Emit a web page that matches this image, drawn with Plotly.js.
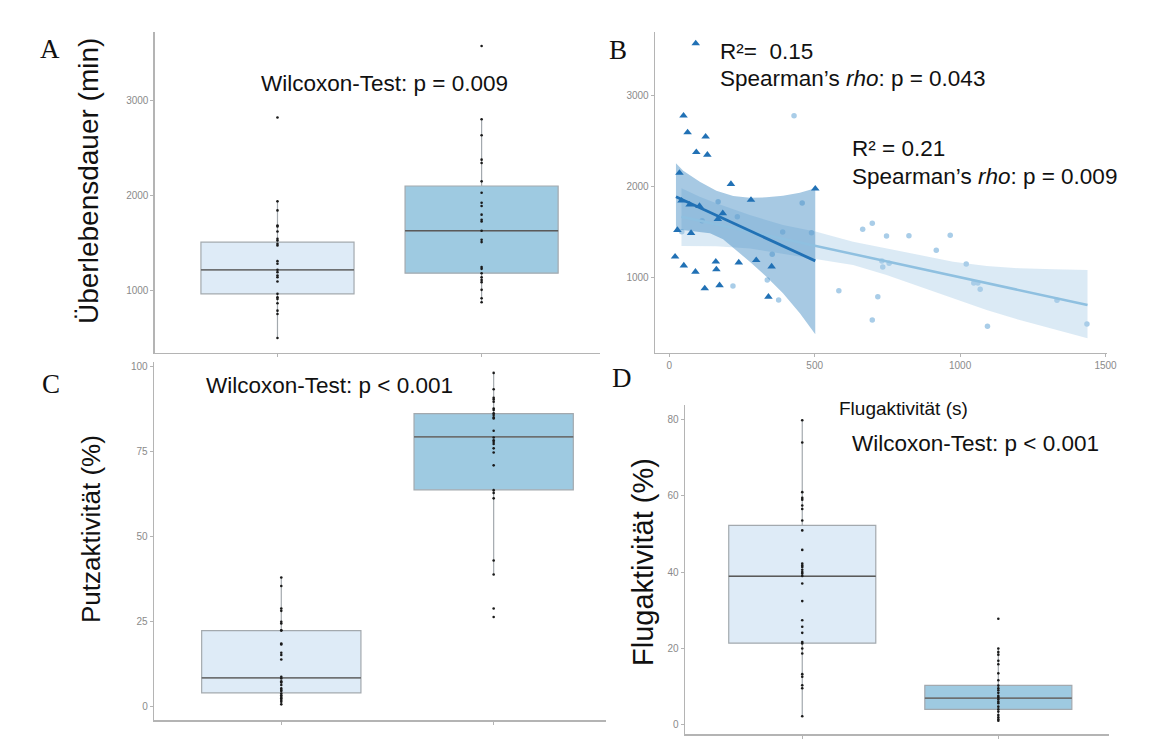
<!DOCTYPE html>
<html>
<head>
<meta charset="utf-8">
<script src="https://cdn.plot.ly/plotly-3.0.1.min.js"></script>
<style>html,body{margin:0;padding:0;background:#fff;}#chart{width:1152px;height:751px;}</style>
</head>
<body>
<div id="chart"></div>
<script>
// ---------- Panel A: Überlebensdauer (min) ----------
const groupsX = [1, 2];
const aQ1 = [965, 1182], aMed = [1218, 1628], aQ3 = [1508, 2098], aLo = [502, 877], aHi = [1937, 2800];
const aG1 = [2818,1937,1842,1684,1674,1621,1544,1526,1491,1474,1309,1281,1218,1193,1158,1140,1095,965,930,912,867,789,754,502];
const aG2 = [3569,2800,2632,2375,2340,2147,2028,1923,1888,1797,1744,1726,1628,1533,1509,1246,1228,1182,1140,1112,1088,1007,919,877];

// ---------- Panel C: Putzaktivität (%) ----------
const cQ1 = [4.1, 63.8], cMed = [8.5, 79.4], cQ3 = [22.4, 86.2], cLo = [0.7, 38.9], cHi = [38.0, 98.2];
const cG1 = [38.0,35.5,28.9,28.2,25.0,24.5,22.5,22.4,18.6,18.3,15.9,15.2,13.9,8.8,8.3,7.5,7.1,6.4,5.4,4.9,4.6,3.9,3.4,2.9,2.5,2.0,1.5,0.7];
const cG2 = [98.2,93.4,90.9,90.4,89.7,87.7,87.3,86.3,85.8,85.1,84.8,81.2,79.2,78.4,77.9,77.3,76.0,74.8,71.0,63.7,62.9,61.3,43.0,38.9,28.9,26.4];

// ---------- Panel D: Flugaktivität (%) ----------
const dQ1 = [21.4, 4.1], dMed = [38.9, 7.0], dQ3 = [52.2, 10.35], dLo = [2.35, 1.1], dHi = [79.8, 20.0];
const dG1 = [79.7,73.9,60.9,59.4,58.9,57.4,56.5,53.5,50.9,45.8,42.2,41.7,41.3,40.6,40.0,39.6,39.0,37.0,32.4,27.4,25.7,24.1,21.7,21.3,20.0,18.7,13.3,12.6,10.4,9.6,2.3];
const dG2 = [27.8,20.0,19.1,18.4,16.8,15.9,13.5,11.7,10.3,9.6,9.1,8.4,7.6,7.2,6.7,6.1,5.7,4.8,4.1,3.5,2.6,2.0,1.5,1.1];

// ---------- Panel B: Flugaktivität (s) vs Überlebensdauer (min) ----------
const triX = [91,49,63,125,93,131,35,212,281,502,42,70,104,184,167,28,75,20,50,160,239,299,90,162,352,122,173,341];
const triY = [3575,2780,2597,2550,2379,2350,2152,2029,1855,1978,1846,1802,1788,1707,1643,1524,1491,1231,1134,1176,1167,1193,1065,1091,1122,882,917,790];
const cirX = [429,168,234,113,43,390,489,457,354,337,219,376,665,698,747,824,966,918,731,734,756,1021,1047,1061,1069,583,717,698,1094,1333,1436];
const cirY = [2780,1835,1670,1626,1505,1502,1495,1821,1257,975,909,755,1532,1598,1458,1462,1466,1301,1183,1118,1158,1150,942,942,872,857,791,535,466,752,491];

const darkLineX = [23, 502], darkLineY = [1890, 1185];
const darkUpX = [23,48,105,162,220,277,334,391,449,502];
const darkUpY = [2257,2176,2055,1956,1898,1879,1883,1901,1934,1982];
const darkLoX = [23,82,140,185,231,277,334,391,449,502];
const darkLoY = [1532,1513,1488,1422,1304,1176,1011,829,609,380];

const lightLineX = [42, 1438], lightLineY = [1670, 700];
const lightUpX = [42,105,162,277,391,506,632,747,862,976,1091,1205,1320,1438];
const lightUpY = [1982,1890,1817,1689,1579,1505,1396,1323,1249,1176,1129,1103,1092,1085];
const lightLoX = [42,162,277,391,518,632,747,862,976,1091,1205,1320,1438];
const lightLoY = [1348,1345,1320,1268,1200,1140,1030,901,774,645,535,433,334];

// ---------- styling ----------
const LIGHT_FILL = '#deebf7', DARK_FILL = '#9ecae1';
const BOX_LINE = '#a3a9ae', MED_LINE = '#5a5a5a';
const AXIS_C = '#b4b4b4', TICK_FONT = {family: 'Liberation Sans, Arial, sans-serif', size: 10, color: '#8a8a8a'};
const SANS = 'Liberation Sans, Arial, sans-serif', SERIF = 'Liberation Serif, Times New Roman, serif';

function boxTraces(q1, med, q3, lo, hi, g1, g2, xa, ya) {
  const tr = [];
  const fills = [LIGHT_FILL, DARK_FILL];
  for (let i = 0; i < 2; i++) {
    tr.push({type: 'box', x: [groupsX[i]], q1: [q1[i]], median: [med[i]], q3: [q3[i]],
      lowerfence: [lo[i]], upperfence: [hi[i]], width: 0.75, whiskerwidth: 0,
      fillcolor: fills[i], line: {color: BOX_LINE, width: 1.2}, boxpoints: false,
      xaxis: xa, yaxis: ya, hoverinfo: 'skip'});
    // darker median line
    tr.push({type: 'box', x: [groupsX[i]], q1: [med[i]], median: [med[i]], q3: [med[i]],
      lowerfence: [med[i]], upperfence: [med[i]], width: 0.75, whiskerwidth: 0,
      fillcolor: 'rgba(0,0,0,0)', line: {color: MED_LINE, width: 1.3}, boxpoints: false,
      xaxis: xa, yaxis: ya, hoverinfo: 'skip'});
  }
  const px = g1.map(() => groupsX[0]).concat(g2.map(() => groupsX[1]));
  tr.push({type: 'scatter', mode: 'markers', x: px, y: g1.concat(g2), xaxis: xa, yaxis: ya,
    marker: {color: '#1a1a1a', size: 2.6}, hoverinfo: 'skip'});
  return tr;
}

function band(ux, uy, lx, ly) {
  return {x: ux.concat(lx.slice().reverse()), y: uy.concat(ly.slice().reverse())};
}

const dB = band(darkUpX, darkUpY, darkLoX, darkLoY);
const lB = band(lightUpX, lightUpY, lightLoX, lightLoY);

const traces = [].concat(
  boxTraces(aQ1, aMed, aQ3, aLo, aHi, aG1, aG2, 'x', 'y'),
  boxTraces(cQ1, cMed, cQ3, cLo, cHi, cG1, cG2, 'x3', 'y3'),
  boxTraces(dQ1, dMed, dQ3, dLo, dHi, dG1, dG2, 'x4', 'y4'),
  [
    {type: 'scatter', mode: 'markers', x: cirX, y: cirY, xaxis: 'x2', yaxis: 'y2',
      marker: {symbol: 'circle', size: 5.5, color: '#a9cde8'}},
    {type: 'scatter', mode: 'lines', x: lB.x, y: lB.y, fill: 'toself', xaxis: 'x2', yaxis: 'y2',
      fillcolor: 'rgba(170,205,232,0.42)', line: {width: 0}},
    {type: 'scatter', mode: 'lines', x: dB.x, y: dB.y, fill: 'toself', xaxis: 'x2', yaxis: 'y2',
      fillcolor: 'rgba(60,135,192,0.45)', line: {width: 0}},
    {type: 'scatter', mode: 'lines', x: lightLineX, y: lightLineY, xaxis: 'x2', yaxis: 'y2',
      line: {color: '#8fc0e0', width: 2.5}},
    {type: 'scatter', mode: 'lines', x: darkLineX, y: darkLineY, xaxis: 'x2', yaxis: 'y2',
      line: {color: '#2171b5', width: 2.8}},
    {type: 'scatter', mode: 'markers', x: triX, y: triY, xaxis: 'x2', yaxis: 'y2',
      marker: {symbol: 'triangle-up', size: 7.5, color: '#2171b5'}}
  ]
);

function px2x(p) { return p / 1152; }
function px2y(p) { return 1 - p / 751; }

function ax(domain, range, extra) {
  return Object.assign({domain: domain, range: range, showgrid: false, zeroline: false,
    showline: true, linecolor: AXIS_C, linewidth: 1.6, ticks: 'outside', ticklen: 3,
    tickcolor: AXIS_C, tickwidth: 1, tickfont: TICK_FONT, fixedrange: true}, extra || {});
}
const catAx = {tickvals: [1, 2], ticktext: ['', '']};

const layout = {
  width: 1152, height: 751, margin: {l: 0, r: 0, t: 0, b: 0},
  paper_bgcolor: '#fff', plot_bgcolor: '#fff', showlegend: false,
  xaxis: ax([px2x(155), px2x(600)], [0.4, 2.58], catAx),
  yaxis: ax([px2y(352.7), px2y(32)], [347, 3716], {tickvals: [1000, 2000, 3000]}),
  xaxis2: ax([px2x(655.3), px2x(1107)], [-48, 1505], {anchor: 'y2', tickvals: [0, 500, 1000, 1500]}),
  yaxis2: ax([px2y(352.7), px2y(32)], [176, 3700], {anchor: 'x2', tickvals: [1000, 2000, 3000]}),
  xaxis3: ax([px2x(154.3), px2x(606)], [0.402, 2.529], Object.assign({anchor: 'y3'}, catAx)),
  yaxis3: ax([px2y(720), px2y(362)], [-3.9, 101.4], {anchor: 'x3', tickvals: [0, 25, 50, 75, 100]}),
  xaxis4: ax([px2x(685.2), px2x(1109.3)], [0.403, 2.566], Object.assign({anchor: 'y4'}, catAx)),
  yaxis4: ax([px2y(734), px2y(405)], [-2.36, 83.7], {anchor: 'x4', tickvals: [0, 20, 40, 60, 80]}),
  annotations: []
};

function ann(text, x, y, size, opts) {
  layout.annotations.push(Object.assign({text: text, x: px2x(x), y: px2y(y), xref: 'paper', yref: 'paper',
    showarrow: false, xanchor: 'center', yanchor: 'middle',
    font: {family: SANS, size: size, color: '#111'}}, opts || {}));
}
// panel letters
ann('A', 50, 49, 27, {font: {family: SERIF, size: 27, color: '#111'}});
ann('B', 618, 50, 27, {font: {family: SERIF, size: 27, color: '#111'}});
ann('C', 51, 384, 27, {font: {family: SERIF, size: 27, color: '#111'}});
ann('D', 622, 378, 27, {font: {family: SERIF, size: 27, color: '#111'}});
// axis titles
ann('Überlebensdauer (min)', 88, 181, 28, {textangle: -90});
ann('Putzaktivität (%)', 91, 529, 26, {textangle: -90});
ann('Flugaktivität (%)', 643, 562, 29, {textangle: -90});
ann('Flugaktivität (s)', 903, 408, 19);
// test results
ann('Wilcoxon-Test: p = 0.009', 384.5, 83.3, 22.5);
ann('Wilcoxon-Test: p < 0.001', 329, 385, 22.5);
ann('Wilcoxon-Test: p < 0.001', 975, 443, 22.5);
ann('R²=\u00a0 0.15', 718, 51.7, 22.5, {xanchor: 'left'});
ann('Spearman’s <i>rho</i>: p = 0.043', 718, 78.3, 22.5, {xanchor: 'left'});
ann('R² = 0.21', 850, 149, 22.5, {xanchor: 'left'});
ann('Spearman’s <i>rho</i>: p = 0.009', 850, 176.7, 22.5, {xanchor: 'left'});

Plotly.newPlot('chart', traces, layout, {staticPlot: true, displayModeBar: false});
</script>
</body>
</html>
